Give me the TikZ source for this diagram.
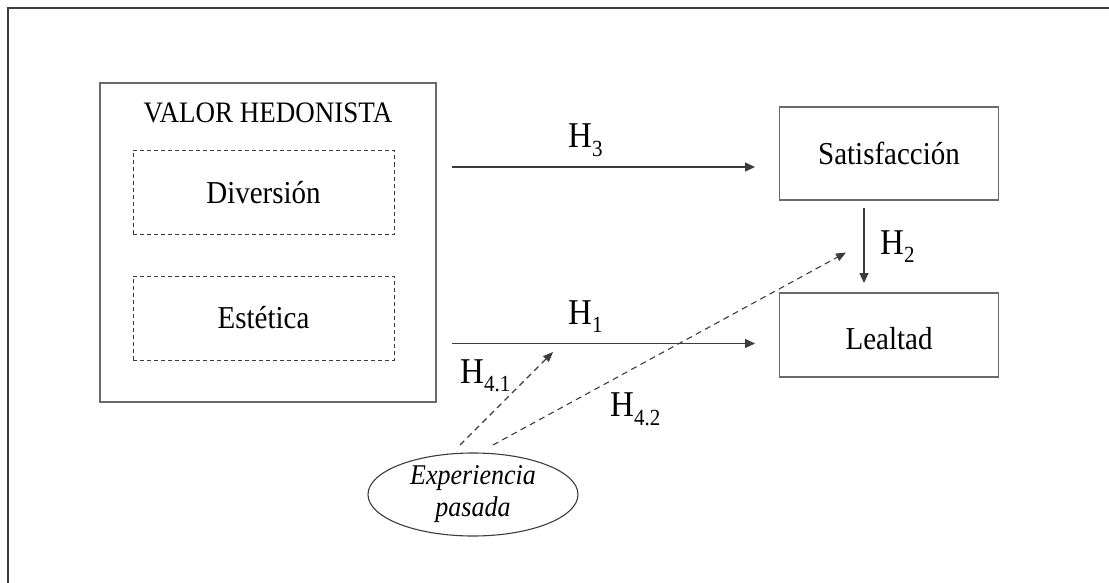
\documentclass[tikz,border=0pt]{standalone}
\usepackage{fontspec}
\setmainfont{Liberation Serif}
\usetikzlibrary{arrows.meta,shapes.geometric}
\definecolor{boxgray}{HTML}{6A6A6A}
\definecolor{linegray}{HTML}{3C3C3C}
\newcommand\tall[1]{\scalebox{1}[1.1]{#1}}
\newcommand\hyp[1]{\tall{H\raisebox{-7.8pt}{\fontsize{21}{21}\selectfont #1}}}
\begin{document}
\begin{tikzpicture}[x=1pt,y=-1pt,
  frame/.style={draw=linegray,line width=2.2pt},
  box/.style={draw=boxgray,line width=1.2pt,inner sep=0pt,font=\fontsize{29}{32}\selectfont},
  dbox/.style={box,draw=linegray,line width=0.9pt,dash pattern=on 4pt off 3pt},
  conn/.style={draw=linegray,line width=1.3pt,-{Triangle[length=10pt,width=9pt]}},
  dconn/.style={conn,line width=1.1pt,dash pattern=on 6pt off 4.5pt,-{Triangle[length=10pt,width=8pt]}},
  hlab/.style={anchor=base west,inner sep=0pt,font=\fontsize{33}{33}\selectfont}]
\useasboundingbox (0,0) rectangle (1109,583);
\draw[frame] (8,590) -- (8,8) -- (1115,8);
% left group
\node[box,minimum width=336pt,minimum height=319pt] (vh) at (268,242.5) {};
\node[anchor=base,inner sep=0pt,font=\fontsize{27}{27}\selectfont] (vhl) at (268,122.7) {\tall{VALOR HEDONISTA}};
\node[dbox,minimum width=261pt,minimum height=84pt,text height=22pt] (div) at (263.5,192.5) {\tall{Diversión}};
\node[dbox,minimum width=261pt,minimum height=84pt,text height=22pt] (est) at (263.5,318) {\tall{Estética}};
% right group
\node[box,minimum width=219pt,minimum height=93pt,text height=22pt] (sat) at (889,153.5) {\tall{Satisfacción}};
\node[box,minimum width=219pt,minimum height=84pt,text height=30pt] (leal) at (889,335) {\tall{Lealtad}};
% ellipse
\node[ellipse,draw=linegray,line width=1.1pt,minimum width=210pt,minimum height=83pt,inner sep=0pt,
  align=center,font=\fontsize{26}{32}\selectfont\itshape] (exp) at (473,494.5) {\tall{Experiencia}\\\tall{pasada}};
% connector end points
\coordinate (h3s) at (452,167);
\coordinate (h3e) at (755,167);
\coordinate (h1s) at (452,343.5);
\coordinate (h1e) at (755,343.5);
\coordinate (h2s) at (864,208);
\coordinate (h2e) at (864,283);
\coordinate (h41s) at (460,445);
\coordinate (h41e) at (553,352);
\coordinate (h42s) at (493,445);
\coordinate (h42e) at (846,252.5);
\draw[conn] (h3s) -- (h3e);
\draw[conn] (h1s) -- (h1e);
\draw[conn] (h2s) -- (h2e);
\draw[dconn] (h41s) -- (h41e);
\draw[dconn] (h42s) -- (h42e);
% labels
\node[hlab] (l3) at (568,148) {\hyp{3}};
\node[hlab] (l1) at (568,324) {\hyp{1}};
\node[hlab] (l2) at (880,254) {\hyp{2}};
\node[hlab] (l41) at (460,383.3) {\hyp{4.1}};
\node[hlab] (l42) at (610,416.7) {\hyp{4.2}};
\end{tikzpicture}
\end{document}
